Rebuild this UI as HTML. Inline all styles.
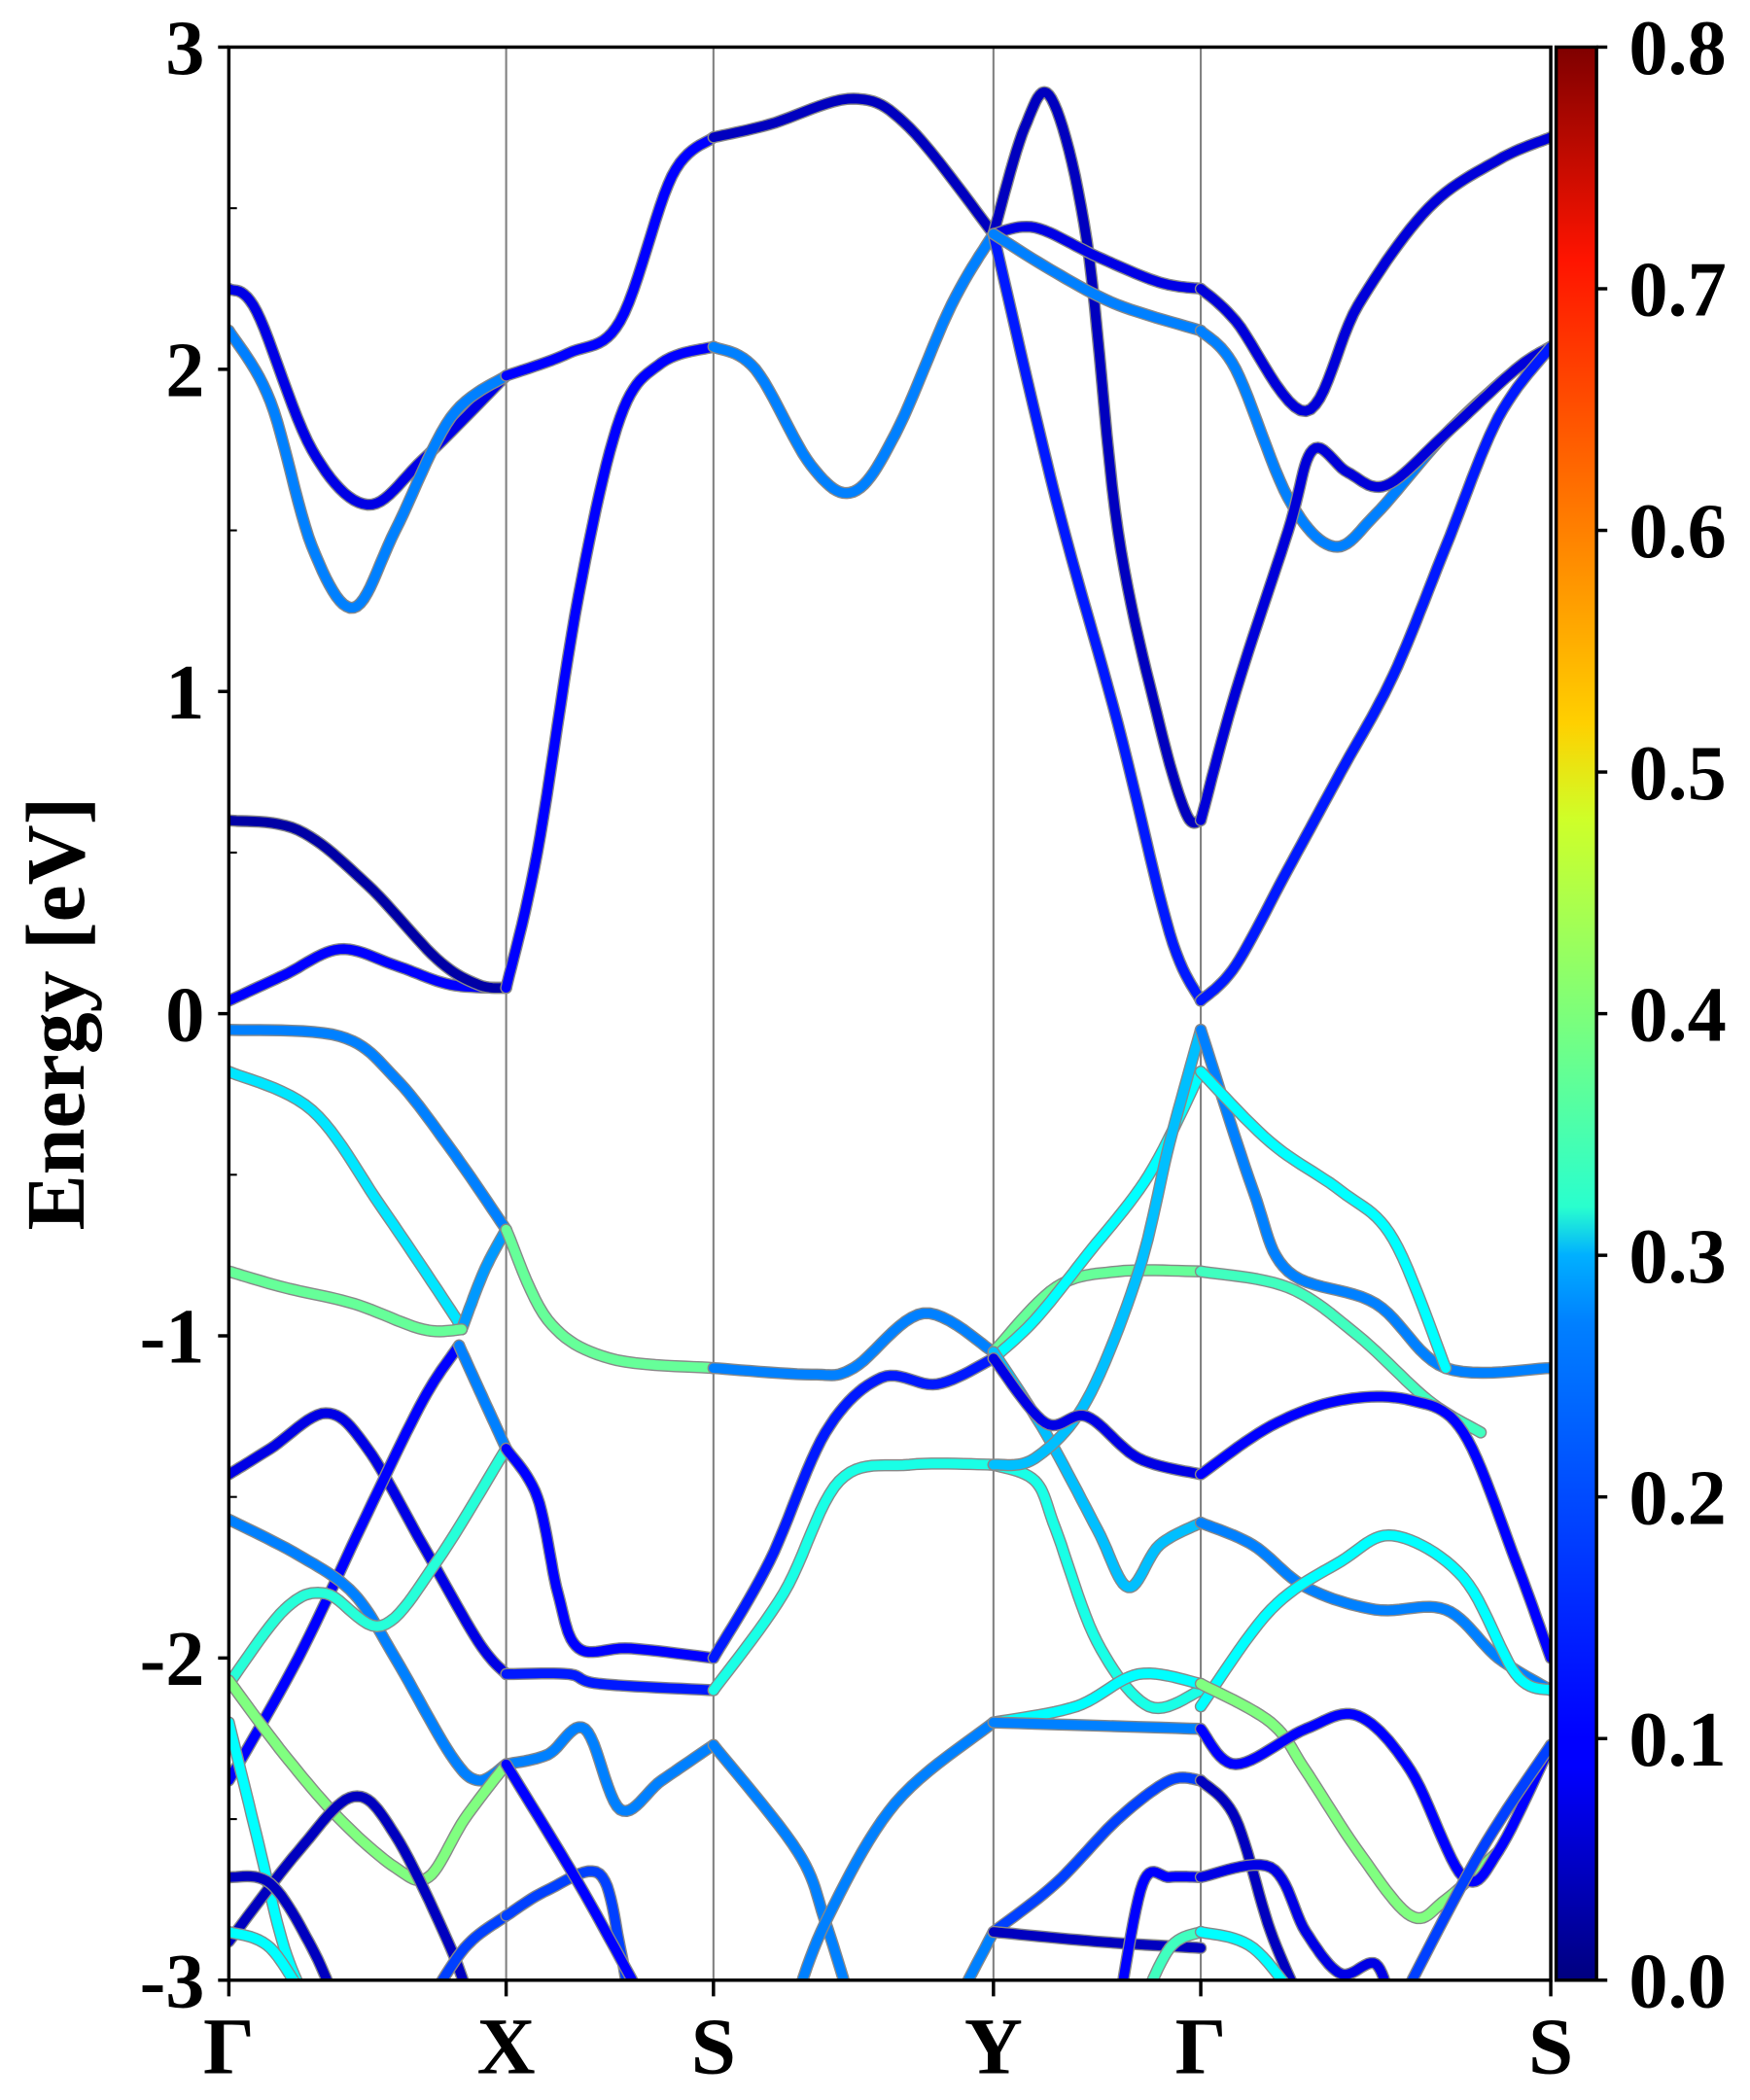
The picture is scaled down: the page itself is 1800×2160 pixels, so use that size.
<!DOCTYPE html>
<html><head><meta charset="utf-8"><style>
html,body{margin:0;padding:0;background:#fff}
svg{display:block}
text{font-family:"Liberation Serif",serif;font-weight:bold;fill:#000}
</style></head><body>
<svg id="chart" width="1800" height="2160" viewBox="0 0 1300 1560" xmlns="http://www.w3.org/2000/svg">
<defs>
<linearGradient id="jet" x1="0" y1="1" x2="0" y2="0">
<stop offset="0" stop-color="#00007f"/><stop offset="0.11" stop-color="#0000ff"/><stop offset="0.125" stop-color="#0000ff"/>
<stop offset="0.34" stop-color="#0080ff"/><stop offset="0.375" stop-color="#00b0ff"/><stop offset="0.4" stop-color="#29ffce"/><stop offset="0.5" stop-color="#7dff7a"/>
<stop offset="0.6" stop-color="#ceff29"/><stop offset="0.65" stop-color="#ffd000"/><stop offset="0.75" stop-color="#ff8000"/><stop offset="0.89" stop-color="#ff1400"/><stop offset="1" stop-color="#7f0000"/>
</linearGradient>
<clipPath id="plotclip"><rect x="170" y="35" width="982" height="1436"/></clipPath>
</defs>
<g id="grid"></g>
<g id="bands" clip-path="url(#plotclip)"></g>
<g id="axes"></g>
</svg>
<script>
const kLabels = ["Γ","X","S","Y","Γ","S"];
const yTicks = [3,2,1,0,-1,-2,-3];
const yTickLabels = ["3","2","1","0","-1","-2","-3"];
const cbTicks = [0,0.1,0.2,0.3,0.4,0.5,0.6,0.7,0.8];
const cbTickLabels = ["0.0","0.1","0.2","0.3","0.4","0.5","0.6","0.7","0.8"];
const bandWeights = [0.1,0.03,0.1,0.08,0.2,0.1,0.05,0.2,0.05,0.12,0.08,0.2,0.07,0.2,0.07,0.12,
0.2,0.28,0.22,0.38,0.08,0.1,0.2,0.2,0.33,0.4,0.3,0.05,0.05,0.3,0.15,0.15,
0.38,0.1,0.12,0.2,0.1,
0.2,0.12,0.32,0.2,0.2,0.2,
0.38,0.3,0.25,0.32,0.25,0.08,0.3,0.2,0.15,0.05,0.1,0.35,
0.2,0.3,0.35,0.1,0.2,0.3,0.4,0.1,0.05,0.08,0.3,0.15];
const bandPoints = [
[[0,0.04],[0.2,0.12],[0.4,0.2],[0.6,0.15],[0.8,0.09],[1,0.08]],
[[0,0.6],[0.25,0.57],[0.5,0.4],[0.75,0.17],[0.9,0.09],[1,0.08]],
[[1,0.08],[1.15,0.5],[1.35,1.3],[1.55,1.85],[1.75,2.02],[2,2.07]],
[[0,2.25],[0.1,2.18],[0.3,1.75],[0.5,1.58],[0.7,1.72],[1,1.98]],
[[0,2.12],[0.15,1.9],[0.3,1.45],[0.45,1.26],[0.6,1.5],[0.8,1.85],[1,1.98]],
[[1,1.98],[1.3,2.05],[1.55,2.15],[1.8,2.6],[2,2.72]],
[[2,2.72],[2.2,2.76],[2.5,2.84],[2.7,2.75],[3,2.42]],
[[2,2.07],[2.15,2.0],[2.35,1.7],[2.5,1.62],[2.65,1.8],[2.85,2.2],[3,2.42]],
[[3,2.42],[3.15,2.75],[3.28,2.84],[3.45,2.4],[3.6,1.5],[3.8,0.9],[3.93,0.62],[4,0.6]],
[[3,2.42],[3.3,1.6],[3.6,0.9],[3.85,0.25],[4,0.04]],
[[3,2.42],[3.2,2.44],[3.5,2.35],[3.8,2.27],[4,2.25]],
[[3,2.42],[3.3,2.3],[3.6,2.2],[4,2.12]],
[[4,2.25],[4.1,2.15],[4.3,1.87],[4.45,2.2],[4.65,2.5],[4.85,2.65],[5,2.72]],
[[4,2.12],[4.1,2.0],[4.25,1.6],[4.38,1.45],[4.5,1.55],[4.7,1.8],[4.9,2.0],[5,2.07]],
[[4,0.6],[4.1,1.0],[4.25,1.5],[4.32,1.75],[4.42,1.68],[4.53,1.64],[4.7,1.8],[4.9,2.0],[5,2.07]],
[[4,0.04],[4.1,0.15],[4.25,0.45],[4.4,0.75],[4.55,1.05],[4.7,1.45],[4.85,1.85],[5,2.07]],
[[0,-0.05],[0.4,-0.07],[0.6,-0.2],[0.8,-0.42],[1,-0.67]],
[[0,-0.18],[0.3,-0.3],[0.55,-0.6],[0.8,-0.92],[0.84,-0.98]],
[[0.84,-0.98],[0.92,-0.8],[1,-0.67]],
[[0,-0.8],[0.2,-0.85],[0.45,-0.9],[0.7,-0.98],[0.84,-0.98]],
[[0,-1.43],[0.15,-1.35],[0.35,-1.24],[0.5,-1.35],[0.7,-1.65],[0.9,-1.95],[1,-2.05]],
[[0,-2.38],[0.25,-2.0],[0.5,-1.55],[0.7,-1.2],[0.83,-1.03]],
[[0.83,-1.03],[0.92,-1.2],[1,-1.35]],
[[0,-1.57],[0.25,-1.68],[0.45,-1.8],[0.6,-2.0],[0.8,-2.3],[0.9,-2.38],[1,-2.33]],
[[0,-2.08],[0.2,-1.85],[0.35,-1.8],[0.55,-1.9],[0.75,-1.7],[1,-1.35]],
[[0,-2.07],[0.2,-2.3],[0.4,-2.5],[0.6,-2.65],[0.72,-2.68],[0.85,-2.5],[1,-2.33]],
[[0,-2.2],[0.1,-2.55],[0.2,-2.9],[0.3,-3.1]],
[[0,-2.88],[0.25,-2.6],[0.45,-2.43],[0.6,-2.55],[0.8,-2.9],[0.88,-3.1]],
[[0,-2.68],[0.15,-2.7],[0.3,-2.9],[0.4,-3.1]],
[[0,-2.85],[0.15,-2.9],[0.3,-3.1]],
[[0.7,-3.1],[0.85,-2.9],[1,-2.8]],
[[1,-2.8],[1.2,-2.72],[1.45,-2.67],[1.55,-2.9],[1.6,-3.1]],
[[1,-0.67],[1.2,-0.95],[1.5,-1.07],[2,-1.1]],
[[1,-1.35],[1.15,-1.5],[1.25,-1.8],[1.35,-1.97],[1.6,-1.97],[2,-2.0]],
[[1,-2.05],[1.3,-2.05],[1.45,-2.08],[2,-2.1]],
[[1,-2.33],[1.2,-2.3],[1.38,-2.22],[1.55,-2.47],[1.75,-2.38],[2,-2.27]],
[[1,-2.33],[1.35,-2.7],[1.65,-3.05]],
[[2,-1.1],[2.35,-1.12],[2.5,-1.1],[2.75,-0.93],[3,-1.05]],
[[2,-2.0],[2.2,-1.7],[2.4,-1.3],[2.6,-1.13],[2.8,-1.15],[3,-1.07]],
[[2,-2.1],[2.25,-1.8],[2.45,-1.45],[2.7,-1.4],[3,-1.4]],
[[2,-2.27],[2.3,-2.6],[2.4,-2.82],[2.5,-3.1]],
[[2.28,-3.1],[2.4,-2.82],[2.65,-2.45],[3,-2.2]],
[[2.85,-3.1],[3,-2.85]],
[[3,-1.05],[3.3,-0.85],[3.6,-0.8],[4,-0.8]],
[[3,-1.07],[3.2,-0.95],[3.45,-0.75],[3.75,-0.5],[4,-0.18]],
[[3,-1.05],[3.25,-1.3],[3.5,-1.6],[3.65,-1.78],[3.8,-1.65],[4,-1.58]],
[[3,-1.4],[3.2,-1.45],[3.3,-1.6],[3.5,-1.95],[3.75,-2.15],[4,-2.1]],
[[3,-1.4],[3.2,-1.38],[3.45,-1.2],[3.7,-0.8],[3.85,-0.4],[4,-0.05]],
[[3,-1.07],[3.25,-1.27],[3.45,-1.25],[3.7,-1.38],[4,-1.43]],
[[3,-2.2],[3.4,-2.15],[3.7,-2.05],[4,-2.08]],
[[3,-2.2],[4,-2.22]],
[[3,-2.85],[3.3,-2.7],[3.6,-2.5],[3.85,-2.38],[4,-2.38]],
[[3,-2.85],[3.5,-2.88],[4,-2.9]],
[[3.6,-3.1],[3.72,-2.7],[3.85,-2.68],[4,-2.68]],
[[3.7,-3.1],[3.85,-2.9],[4,-2.85]],
[[4,-0.05],[4.15,-0.55],[4.25,-0.8],[4.5,-0.9],[4.7,-1.1],[5,-1.1]],
[[4,-0.18],[4.2,-0.4],[4.4,-0.55],[4.55,-0.7],[4.7,-1.1]],
[[4,-0.8],[4.25,-0.85],[4.45,-1.0],[4.65,-1.2],[4.8,-1.3]],
[[4,-1.43],[4.2,-1.28],[4.4,-1.2],[4.6,-1.2],[4.75,-1.3],[4.9,-1.7],[5,-2.0]],
[[4,-1.58],[4.15,-1.65],[4.3,-1.78],[4.5,-1.85],[4.7,-1.85],[4.85,-2.0],[5,-2.1]],
[[4,-2.15],[4.2,-1.85],[4.4,-1.7],[4.55,-1.62],[4.75,-1.75],[4.9,-2.05],[5,-2.1]],
[[4,-2.08],[4.2,-2.2],[4.3,-2.35],[4.45,-2.6],[4.6,-2.8],[4.7,-2.75],[4.85,-2.6]],
[[4,-2.22],[4.1,-2.33],[4.3,-2.22],[4.45,-2.18],[4.6,-2.35],[4.75,-2.68],[4.85,-2.6],[5,-2.27]],
[[4,-2.38],[4.1,-2.5],[4.2,-2.85],[4.3,-3.1]],
[[4,-2.68],[4.2,-2.65],[4.3,-2.85],[4.4,-2.98],[4.5,-2.95],[4.55,-3.1]],
[[4,-2.85],[4.15,-2.9],[4.3,-3.1]],
[[4.58,-3.05],[4.8,-2.6],[5,-2.27]]
];

const NS="http://www.w3.org/2000/svg";
const nodeX=[170,376,530,738,892,1152];
const plotL=170,plotR=1152,plotT=35,plotB=1471,eMin=-3,eMax=3;
function xOf(k){const i=Math.min(4,Math.max(0,Math.floor(k)));return nodeX[i]+(k-i)*(nodeX[i+1]-nodeX[i]);}
function yOf(e){return plotB-(e-eMin)/(eMax-eMin)*(plotB-plotT);}
function jet(v){const t=Math.max(0,Math.min(1,v/0.8));
 const f=x=>Math.max(0,Math.min(1,x));
 const r=f(Math.min(4*t-1.5,-4*t+4.5)),g=f(Math.min(4*t-0.5,-4*t+3.5)),b=f(Math.min(4*t+0.5,-4*t+2.5));
 return `rgb(${Math.round(r*255)},${Math.round(g*255)},${Math.round(b*255)})`;}
function mk(tag,attrs,parent){const el=document.createElementNS(NS,tag);for(const a in attrs)el.setAttribute(a,attrs[a]);parent.appendChild(el);return el;}

const grid=document.getElementById('grid');
for(let i=1;i<5;i++){
 const l=mk('line',{x1:xOf(i),x2:xOf(i),y1:plotT,y2:plotB,stroke:'#808080','stroke-width':1.5},grid);
 
 
}
function catmull(pts){
 const out=[];
 for(let i=0;i<pts.length-1;i++){
  const p0=pts[Math.max(0,i-1)],p1=pts[i],p2=pts[i+1],p3=pts[Math.min(pts.length-1,i+2)];
  for(let s=0;s<12;s++){const t=s/12,t2=t*t,t3=t2*t;
   const c=(a,b,c_,d)=>0.5*(2*b+(-a+c_)*t+(2*a-5*b+4*c_-d)*t2+(-a+3*b-3*c_+d)*t3);
   out.push([c(p0[0],p1[0],p2[0],p3[0]),c(p0[1],p1[1],p2[1],p3[1])]);}
 }
 out.push(pts[pts.length-1]);return out;}
const bandsG=document.getElementById('bands');
bandPoints.forEach((pts,i)=>{
 const px=pts.map(p=>[xOf(p[0]),yOf(p[1])]);
 const d='M'+catmull(px).map(p=>p[0].toFixed(1)+','+p[1].toFixed(1)).join(' L');
 const g=mk('g',{},bandsG);
 
 
 mk('path',{d:d,fill:'none',stroke:'#888','stroke-width':9,'stroke-linecap':'round','stroke-linejoin':'round'},g);
 mk('path',{d:d,fill:'none',stroke:jet(bandWeights[i]),'stroke-width':7,'stroke-linecap':'round','stroke-linejoin':'round'},g);
});

const ax=document.getElementById('axes');
const frame=mk('rect',{x:plotL,y:plotT,width:plotR-plotL,height:plotB-plotT,fill:'none',stroke:'#000','stroke-width':2.5},ax);


yTicks.forEach((v,i)=>{
 mk('line',{x1:plotL-8,x2:plotL,y1:yOf(v),y2:yOf(v),stroke:'#000','stroke-width':2.5},ax);
 const t=mk('text',{x:plotL-18,y:yOf(v)+20,'text-anchor':'end','font-size':58},ax);
 t.textContent=yTickLabels[i];
 
 
 if(v<3){mk('line',{x1:plotL,x2:plotL+6,y1:yOf(v+0.5),y2:yOf(v+0.5),stroke:'#000','stroke-width':1.5},ax);}
});
kLabels.forEach((lab,i)=>{
 mk('line',{x1:nodeX[i],x2:nodeX[i],y1:plotB,y2:plotB+12,stroke:'#000','stroke-width':2.5},ax);
 const t=mk('text',{x:nodeX[i],y:1540,'text-anchor':'middle','font-size':60},ax);
 t.textContent=lab;
 
 
});
const yl=mk('text',{x:0,y:0,'text-anchor':'middle','font-size':62,transform:'translate(62,753) rotate(-90)'},ax);
yl.textContent='Energy [eV]';


const cb=mk('rect',{x:1156,y:35,width:30,height:1436,fill:'url(#jet)',stroke:'#000','stroke-width':2.5},ax);


cbTicks.forEach((v,i)=>{
 const y=1471-v/0.8*1436;
 mk('line',{x1:1186,x2:1194,y1:y,y2:y,stroke:'#000','stroke-width':2.5},ax);
 const t=mk('text',{x:1210,y:y+20,'font-size':58},ax);
 t.textContent=cbTickLabels[i];
 
 
});
</script>
</body></html>
